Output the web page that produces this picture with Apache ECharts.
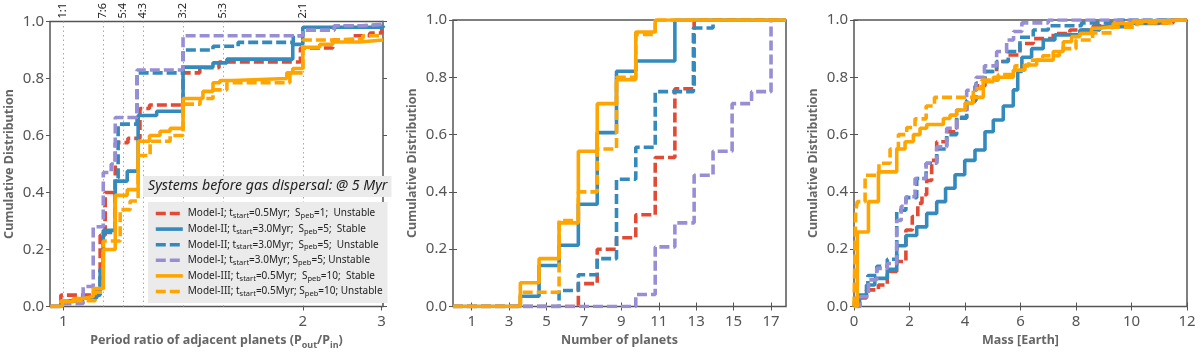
<!DOCTYPE html>
<html>
<head>
<meta charset="utf-8">
<script src="https://cdn.jsdelivr.net/npm/echarts@6/dist/echarts.min.js"></script>
<style>
html, body { margin: 0; padding: 0; background: #fff; }
#container { width: 1200px; height: 356px; }
</style>
</head>
<body>
<div id="container"></div>
<script>
var dom = document.getElementById('container');
var myChart = echarts.init(dom, null, { renderer: 'canvas' });

// one name per model run, same order in all three panels
var modelNames = [
    'Model-I; t_start=0.5Myr;  S_peb=1;  Unstable',
    'Model-II; t_start=3.0Myr;  S_peb=5;  Stable',
    'Model-II; t_start=3.0Myr;  S_peb=5;  Unstable',
    'Model-I; t_start=3.0Myr; S_peb=5; Unstable',
    'Model-III; t_start=0.5Myr;  S_peb=10;  Stable',
    'Model-III; t_start=0.5Myr; S_peb=10; Unstable'
];

// panel 1 : period ratio of adjacent planets -> cumulative fraction
var ratioTicks = [1, 2, 3];
var resonanceValues = [1, 7 / 6, 5 / 4, 4 / 3, 3 / 2, 5 / 3, 2];
var resonanceLabels = ['1:1', '7:6', '5:4', '4:3', '3:2', '5:3', '2:1'];

var ratioI05u = [[0.946, 0], [0.99, 0.04], [1.14, 0.06], [1.154, 0.25], [1.175, 0.4], [1.217, 0.575], [1.27, 0.59], [1.32, 0.695], [1.36, 0.707], [1.5, 0.82], [1.57, 0.838], [1.65, 0.858], [1.99, 0.907], [2.38, 0.935], [2.63, 0.95], [2.85, 0.96], [3.0, 0.977], [3.02, 0.977]];
var ratioII30s = [[0.946, 0], [0.99, 0.02], [1.08, 0.03], [1.14, 0.04], [1.154, 0.13], [1.167, 0.267], [1.217, 0.44], [1.267, 0.475], [1.3125, 0.67], [1.39, 0.685], [1.5, 0.84], [1.625, 0.855], [1.683, 0.868], [1.958, 0.92], [2.0, 0.98], [3.02, 0.985]];
var ratioII30u = [[0.946, 0], [0.99, 0.02], [1.08, 0.03], [1.14, 0.05], [1.154, 0.13], [1.167, 0.26], [1.217, 0.45], [1.229, 0.64], [1.308, 0.82], [1.5, 0.9], [1.625, 0.913], [1.73, 0.927], [1.96, 0.95], [2.0, 0.97], [2.4, 0.985], [3.0, 0.99], [3.02, 0.99]];
var ratioI30u = [[0.946, 0], [0.99, 0.01], [1.083, 0.07], [1.125, 0.28], [1.167, 0.47], [1.2, 0.5], [1.217, 0.663], [1.308, 0.83], [1.5, 0.95], [2.0, 0.97], [2.4, 0.985], [2.75, 0.99], [3.0, 1.0], [3.02, 1.0]];
var ratioIII05s = [[0.946, 0], [0.996, 0.017], [1.042, 0.028], [1.083, 0.035], [1.125, 0.063], [1.167, 0.2], [1.217, 0.39], [1.267, 0.41], [1.3125, 0.58], [1.36, 0.6], [1.404, 0.615], [1.446, 0.625], [1.5, 0.73], [1.583, 0.755], [1.625, 0.785], [1.654, 0.793], [1.708, 0.8], [1.933, 0.82], [1.958, 0.835], [2.0, 0.91], [2.215, 0.92], [2.38, 0.928], [2.72, 0.935], [3.02, 0.935]];
var ratioIII05u = [[0.946, 0], [0.99, 0.02], [1.133, 0.05], [1.167, 0.23], [1.2375, 0.34], [1.279, 0.37], [1.3125, 0.53], [1.3625, 0.58], [1.446, 0.6], [1.5, 0.71], [1.571, 0.73], [1.625, 0.76], [1.683, 0.785], [1.946, 0.82], [2.0, 0.935], [2.38, 0.94], [2.76, 0.95], [3.02, 0.95]];

// panel 2 : number of planets -> cumulative fraction
var countTicks = [1, 3, 5, 7, 9, 11, 13, 15, 17];
var countI05u = [[0, 0], [6.7, 0.08], [7.71, 0.2], [8.74, 0.24], [9.77, 0.32], [10.81, 0.52], [11.86, 0.76], [12.89, 1], [17.8, 1]];
var countII30s = [[0, 0], [3.6, 0.036], [4.6, 0.143], [5.67, 0.214], [6.7, 0.357], [7.71, 0.607], [8.74, 0.821], [9.77, 0.857], [11.86, 1], [17.8, 1]];
var countII30u = [[0, 0], [5.67, 0.056], [6.7, 0.111], [7.71, 0.167], [8.74, 0.444], [9.77, 0.556], [10.81, 0.75], [12.85, 0.972], [13.9, 1], [17.8, 1]];
var countI30u = [[0, 0], [9.77, 0.042], [10.81, 0.208], [11.86, 0.292], [12.89, 0.458], [13.9, 0.542], [14.92, 0.708], [15.96, 0.75], [17.0, 1], [17.8, 1]];
var countIII05s = [[0, 0], [3.6, 0.083], [4.6, 0.167], [5.67, 0.292], [6.7, 0.542], [7.71, 0.708], [8.74, 0.792], [9.77, 0.958], [10.81, 1], [17.8, 1]];
var countIII05u = [[0, 0], [3.6, 0.05], [5.67, 0.3], [6.7, 0.4], [7.71, 0.55], [8.74, 0.8], [9.77, 0.95], [10.81, 1], [17.8, 1]];

// panel 3 : planet mass [Earth] -> cumulative fraction
var massI05u = [[0, 0], [0.2, 0.03], [0.45, 0.058], [0.88, 0.075], [1.2, 0.122], [1.54, 0.157], [1.87, 0.267], [2.1, 0.314], [2.3, 0.36], [2.45, 0.39], [2.62, 0.44], [2.8, 0.51], [2.98, 0.575], [3.34, 0.61], [3.7, 0.657], [4.06, 0.715], [4.36, 0.77], [4.72, 0.82], [5.14, 0.855], [5.56, 0.878], [5.98, 0.918], [6.46, 0.935], [7.18, 0.953], [7.78, 0.965], [8.62, 0.98], [10, 0.99], [11.5, 1], [12, 1]];
var massII30s = [[0, 0], [0.2, 0.035], [0.45, 0.075], [0.75, 0.098], [1.2, 0.13], [1.54, 0.212], [1.87, 0.248], [2.26, 0.278], [2.62, 0.325], [2.98, 0.366], [3.3, 0.413], [3.64, 0.46], [3.99, 0.51], [4.36, 0.546], [4.72, 0.61], [5.02, 0.651], [5.38, 0.7], [5.74, 0.756], [5.9, 0.82], [6.05, 0.87], [6.4, 0.9], [6.82, 0.93], [7.24, 0.948], [8.14, 0.965], [8.86, 0.977], [9.94, 0.988], [11, 1], [12, 1]];
var massII30u = [[0, 0], [0.05, 0.04], [0.5, 0.108], [0.82, 0.14], [1.2, 0.165], [1.54, 0.336], [1.87, 0.38], [2.26, 0.447], [2.6, 0.5], [2.98, 0.55], [3.34, 0.6], [3.7, 0.66], [4.06, 0.72], [4.4, 0.78], [4.72, 0.82], [5.14, 0.855], [5.56, 0.89], [5.98, 0.94], [6.46, 0.965], [7.0, 0.98], [8.2, 0.99], [9.5, 1], [12, 1]];
var massI30u = [[0, 0], [0.22, 0.034], [0.52, 0.093], [0.82, 0.133], [1.2, 0.15], [1.54, 0.3], [1.7, 0.35], [1.87, 0.383], [2.2, 0.447], [2.6, 0.5], [2.98, 0.557], [3.34, 0.622], [3.7, 0.686], [4.06, 0.755], [4.4, 0.8], [4.7, 0.84], [5.14, 0.89], [5.5, 0.93], [5.75, 0.96], [6.05, 0.99], [7, 1], [12, 1]];
var massIII05s = [[0, 0], [0.12, 0.26], [0.52, 0.366], [0.88, 0.47], [1.54, 0.55], [1.84, 0.575], [2.14, 0.6], [2.38, 0.622], [2.62, 0.635], [3.22, 0.656], [3.46, 0.668], [3.7, 0.686], [4.0, 0.71], [4.3, 0.73], [4.66, 0.785], [5.02, 0.8], [5.74, 0.825], [6.16, 0.843], [6.58, 0.86], [7.18, 0.89], [7.54, 0.924], [7.84, 0.942], [8.14, 0.953], [8.56, 0.971], [8.86, 0.977], [9.34, 0.988], [10.06, 0.996], [10.6, 1], [12, 1]];
var massIII05u = [[0, 0], [0.06, 0.33], [0.12, 0.366], [0.4, 0.458], [0.9, 0.5], [1.3, 0.55], [1.6, 0.6], [1.9, 0.625], [2.2, 0.655], [2.6, 0.7], [2.9, 0.73], [4.3, 0.76], [4.6, 0.79], [5.2, 0.81], [5.8, 0.84], [6.3, 0.86], [6.8, 0.875], [7.4, 0.9], [8.0, 0.93], [8.6, 0.955], [9.3, 0.975], [10.2, 0.99], [11.5, 1], [12, 1]];

var ratioData = [ratioI05u, ratioII30s, ratioII30u, ratioI30u, ratioIII05s, ratioIII05u];
var countData = [countI05u, countII30s, countII30u, countI30u, countIII05s, countIII05u];
var massData = [massI05u, massII30s, massII30u, massI30u, massIII05s, massIII05u];

// styles
var lineColors = ['#E24A33', '#348ABD', '#348ABD', '#988ED5', '#FFA500', '#FFA500'];
var dashed = [true, false, true, true, false, true];

// the period-ratio axis is linear up to 2 and squeezed beyond it
var squeeze = 0.329;
function warp(r) { return r <= 2 ? r : 2 + (r - 2) * squeeze; }
function unwarp(v) { return v <= 2 ? v : 2 + (v - 2) / squeeze; }

var tickColor = '#555';
var labelStyle = { color: '#555', fontSize: 15, fontFamily: 'Noto Sans' };
var nameStyle = { color: '#666', fontSize: 12.5, fontWeight: 'bold', fontFamily: 'Noto Sans' };

var gridLefts = [50, 453, 854];

function bottomAxis(grid, extra) {
    return Object.assign({
        gridIndex: grid,
        type: 'value',
        position: 'bottom',
        axisLine: { show: false },
        axisTick: { show: true, length: 4, lineStyle: { color: tickColor } },
        axisLabel: Object.assign({ margin: 8 }, labelStyle),
        splitLine: { show: false },
        nameLocation: 'middle',
        nameGap: 27,
        nameTextStyle: nameStyle
    }, extra);
}

function topAxis(grid, extra) {
    return Object.assign({
        gridIndex: grid,
        type: 'value',
        position: 'top',
        axisLine: { show: false },
        axisTick: { show: true, length: 4, lineStyle: { color: tickColor } },
        axisLabel: { show: false },
        splitLine: { show: false }
    }, extra);
}

var xAxes = [
    bottomAxis(0, {
        min: warp(0.9446), max: 2.3347,
        axisTick: { show: true, length: 4, customValues: ratioTicks.map(warp), lineStyle: { color: tickColor } },
        axisLabel: Object.assign({
            margin: 8,
            customValues: ratioTicks.map(warp),
            formatter: function (v) { return String(Math.round(unwarp(v))); }
        }, labelStyle),
        name: 'Period ratio of adjacent planets (P{s|out}/P{s|in})',
        nameTextStyle: Object.assign({
            rich: { s: { fontSize: 9, fontWeight: 'bold', color: '#666', verticalAlign: 'bottom', lineHeight: 10, padding: [0, 0, -3, 0] } }
        }, nameStyle)
    }),
    topAxis(0, {
        min: warp(0.9446), max: 2.3347,
        axisTick: { show: false, customValues: resonanceValues },
        axisLabel: {
            show: true, rotate: 90, margin: 3,
            customValues: resonanceValues,
            color: '#222', fontSize: 11, fontFamily: 'Noto Sans',
            formatter: function (v) {
                var best = 0;
                for (var i = 1; i < resonanceValues.length; i++) {
                    if (Math.abs(resonanceValues[i] - v) < Math.abs(resonanceValues[best] - v)) best = i;
                }
                return resonanceLabels[best];
            }
        },
        splitLine: { show: true, lineStyle: { color: '#aaa', type: [1.5, 3], width: 1 } }
    }),
    bottomAxis(1, {
        min: 0, max: 17.8,
        axisTick: { show: true, length: 4, customValues: countTicks, lineStyle: { color: tickColor } },
        axisLabel: Object.assign({ margin: 8, customValues: countTicks }, labelStyle),
        name: 'Number of planets'
    }),
    topAxis(1, {
        min: 0, max: 17.8,
        axisTick: { show: true, length: 4, customValues: countTicks, lineStyle: { color: tickColor } }
    }),
    bottomAxis(2, {
        min: 0, max: 12, interval: 2,
        name: 'Mass [Earth]'
    }),
    topAxis(2, { min: 0, max: 12, interval: 2 })
];

var yAxes = [];
for (var g = 0; g < 3; g++) {
    yAxes.push({
        gridIndex: g,
        type: 'value',
        position: 'left',
        min: 0, max: 1, interval: 0.2,
        axisLine: { show: false },
        axisTick: { show: true, length: 4, lineStyle: { color: tickColor } },
        axisLabel: Object.assign({ margin: 6, formatter: function (v) { return v.toFixed(1); } }, labelStyle),
        splitLine: { show: false },
        name: 'Cumulative Distribution',
        nameLocation: 'middle',
        nameGap: 34,
        nameTextStyle: nameStyle
    });
    yAxes.push({
        gridIndex: g,
        type: 'value',
        position: 'right',
        min: 0, max: 1, interval: 0.2,
        axisLine: { show: false },
        axisTick: { show: true, length: 4, lineStyle: { color: tickColor } },
        axisLabel: { show: false },
        splitLine: { show: false }
    });
}

var series = [];
var panels = [ratioData, countData, massData];
for (var p = 0; p < 3; p++) {
    for (var i = 0; i < modelNames.length; i++) {
        var pts = panels[p][i];
        if (p === 0) {
            pts = pts.map(function (d) { return [warp(d[0]), d[1]]; });
        }
        series.push({
            name: modelNames[i],
            type: 'line',
            xAxisIndex: p * 2,
            yAxisIndex: p * 2,
            step: 'end',
            symbol: 'none',
            clip: true,
            data: pts,
            lineStyle: {
                color: lineColors[i],
                width: 3.6,
                type: dashed[i] ? [10, 4] : 'solid',
                cap: 'butt'
            },
            itemStyle: { color: lineColors[i] },
            z: 2 + i
        });
    }
}

option = {
    backgroundColor: '#fff',
    animation: false,
    title: {
        text: 'Systems before gas dispersal: @ 5 Myr',
        left: 143,
        top: 176,
        backgroundColor: '#ebebeb',
        padding: [3, 4, 4, 5],
        textStyle: {
            fontStyle: 'italic',
            fontWeight: 'normal',
            fontSize: 14.2,
            color: '#222',
            fontFamily: 'Noto Sans'
        },
        z: 10
    },
    legend: {
        data: modelNames,
        orient: 'vertical',
        left: 148,
        top: 202,
        backgroundColor: '#ebebeb',
        padding: [5, 5, 5, 6],
        itemGap: 2.6,
        itemWidth: 27,
        itemHeight: 8,
        itemStyle: { opacity: 0 },
        lineStyle: { width: 3.6 },
        textStyle: {
            color: '#222',
            fontSize: 10,
            lineHeight: 13,
            fontFamily: 'Noto Sans',
            rich: {
                s: { fontSize: 7.5, lineHeight: 8, verticalAlign: 'bottom', color: '#222', fontFamily: 'Noto Sans' }
            }
        },
        formatter: function (name) {
            return name.replace('t_start', 't{s|start}').replace('S_peb', 'S{s|peb}');
        },
        z: 10
    },
    grid: gridLefts.map(function (l) {
        return {
            left: l, top: 20, width: 333, height: 286.5,
            show: true, borderColor: '#555', borderWidth: 1.5,
            backgroundColor: 'transparent'
        };
    }),
    xAxis: xAxes,
    yAxis: yAxes,
    series: series
};
myChart.setOption(option);

window.addEventListener('resize', function () {
    myChart.resize();
});
</script>
</body>
</html>
